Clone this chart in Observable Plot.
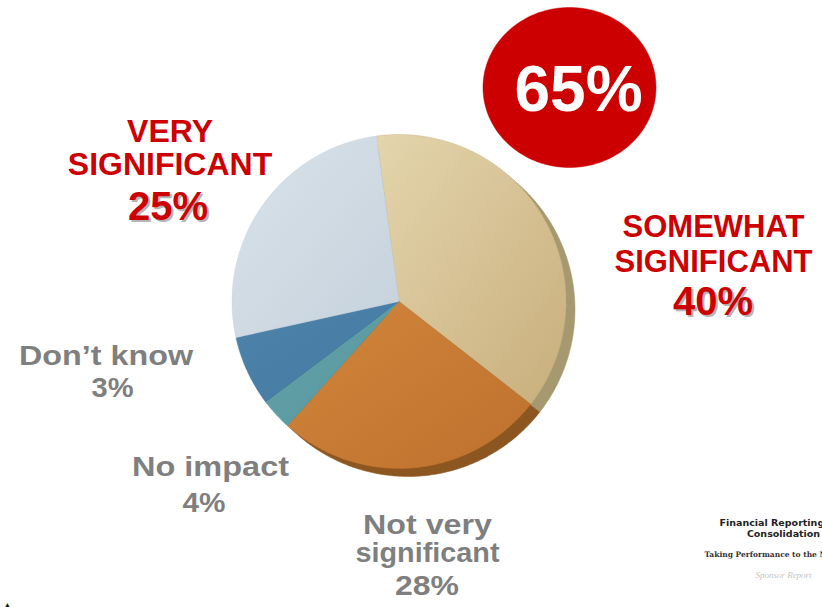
<!DOCTYPE html>
<html><head><meta charset="utf-8">
<script src="https://cdn.jsdelivr.net/npm/d3@7"></script>
<script src="https://cdn.jsdelivr.net/npm/@observablehq/plot@0.6"></script>
<style>body{margin:0;background:#fff} svg{display:block}</style>
</head><body><div id="chart"></div>
<script>
// ---- data ----
const categories = ["Somewhat significant", "Not very significant", "No impact", "Don't know", "Very significant"];
const sliceShare = [37.7, 26.1, 3.1, 6.8, 26.3];   // slice sizes as drawn (%)
const labelPct   = [40, 28, 4, 3, 25];              // printed percentages
const headline   = "65%";
const labelLines = [["SOMEWHAT", "SIGNIFICANT"], ["Not very", "significant"], ["No impact"], ["Don\u2019t know"], ["VERY", "SIGNIFICANT"]];
const logoLines  = ["Financial Reporting", "Consolidation", "Taking Performance to the Next Level", "Sponsor Report"];

// ---- styles ----
const topColors = [["#e4d5ad", "#c8ae7c"], ["#d2853b", "#bd712d"], ["#63a1a9", "#5a98a0"], ["#4d83ab", "#4579a1"], ["#d8e2ea", "#c6d2dc"]];
const rimColors = ["#a6996f", "#8c5621", "#4a7a80", "#335e7e", "#a0aab4"];
const RED = "#cc0000", GRAY = "#7f7f7f";
const FONT = "'Liberation Sans', Arial, Helvetica, sans-serif";

// ---- layout ----
const W = 822, H = 607, cx = 398.5, cy = 301, R = 167;
const X = px => (px - cx) / R, Y = py => (cy - py) / R;
const startDeg = -7.8;
const labelPos = [
  {x: 713, lines: [236, 271.7], widths: null, pct: 314, pctX: 712.5, pctW: null, color: RED, size: 31, pctSize: 40},
  {x: 427, lines: [533.3, 561], widths: [129, 144], pct: 594, pctX: 426.5, pctW: 64, color: GRAY, size: 28, pctSize: 28},
  {x: 210, lines: [475], widths: [157], pct: 511.7, pctX: 203.5, pctW: 43, color: GRAY, size: 28, pctSize: 28},
  {x: 105.5, lines: [364.3], widths: [174], pct: 396.7, pctX: 112, pctW: 42, color: GRAY, size: 28, pctSize: 28},
  {x: 169.5, lines: [141.7, 174], widths: null, pct: 219, pctX: 167.5, pctW: null, color: RED, size: 32, pctSize: 40}
];

// ---- geometry from data ----
const arcs = d3.pie().sort(null)
  .startAngle(startDeg * Math.PI / 180)
  .endAngle(2 * Math.PI + startDeg * Math.PI / 180)(sliceShare);
const slices = arcs.map((a, i) => {
  const n = Math.max(2, Math.ceil((a.endAngle - a.startAngle) / (Math.PI / 240)));
  const pts = [{x: 0, y: 0}];
  for (let k = 0; k <= n; k++) {
    const t = a.startAngle + (a.endAngle - a.startAngle) * k / n;
    pts.push({x: Math.sin(t), y: Math.cos(t)});
  }
  pts.push({x: 0, y: 0});
  return {i, pts};
});
const ell = {cx: X(569), cy: Y(87), rx: 86.5 / R, ry: 80 / R};
const ellPts = d3.range(0, 361, 2).map(d => ({x: ell.cx + ell.rx * Math.cos(d * Math.PI / 180), y: ell.cy + ell.ry * Math.sin(d * Math.PI / 180)}));

// ---- text rows ----
const redRows = [], grayRows = [], redPct = [], grayPct = [];
labelPos.forEach((p, i) => {
  const red = p.color === RED;
  labelLines[i].forEach((t, j) => (red ? redRows : grayRows).push({text: t, x: X(p.x), y: Y(p.lines[j]), size: p.size, w: p.widths ? p.widths[j] : null}));
  (red ? redPct : grayPct).push({text: labelPct[i] + "%", x: X(p.pctX), y: Y(p.pct), size: p.pctSize, w: p.pctW});
});

const common = {x: "x", y: "y", text: "text", fontSize: "size", fontWeight: "bold", fontFamily: FONT, lineAnchor: "bottom", textAnchor: "middle"};
const marks = [];
slices.forEach(s => marks.push(Plot.line(s.pts, {x: "x", y: "y", dx: 9, dy: 8, fill: rimColors[s.i], stroke: rimColors[s.i], strokeWidth: 0.5, curve: "linear"})));
slices.forEach(s => marks.push(Plot.line(s.pts, {x: "x", y: "y", fill: `url(#g${s.i})`, stroke: topColors[s.i][1], strokeWidth: 0.4, curve: "linear"})));
marks.push(Plot.line(ellPts, {x: "x", y: "y", fill: RED, stroke: RED, strokeWidth: 0.5, curve: "linear"}));
marks.push(Plot.text([headline], {x: X(578), y: Y(110), text: d => d, fill: "white", fontSize: 64, fontWeight: "bold", fontFamily: FONT, lineAnchor: "bottom", textAnchor: "middle"}));
marks.push(Plot.text(redRows, {...common, fill: RED}));
marks.push(Plot.text(redPct, {...common, dx: 2, dy: 2, fill: "#b5b5b5"}));
marks.push(Plot.text(redPct, {...common, fill: RED}));
marks.push(Plot.text(grayRows, {...common, fill: GRAY}));
marks.push(Plot.text(grayPct, {...common, fill: GRAY}));
// sponsor logo text
marks.push(Plot.text([logoLines[0]], {x: X(719), y: Y(525), text: d => d, fill: "#222", fontSize: 9.5, fontWeight: "bold", fontFamily: "'DejaVu Sans', Verdana, sans-serif", lineAnchor: "bottom", textAnchor: "start"}));
marks.push(Plot.text([logoLines[1]], {x: X(783), y: Y(536), text: d => d, fill: "#222", fontSize: 9.5, fontWeight: "bold", fontFamily: "'DejaVu Sans', Verdana, sans-serif", lineAnchor: "bottom", textAnchor: "middle"}));
marks.push(Plot.text([logoLines[2]], {x: X(704), y: Y(556.7), text: d => d, fill: "#333", fontSize: 7.5, fontWeight: "bold", fontFamily: "'DejaVu Serif', 'Liberation Serif', serif", lineAnchor: "bottom", textAnchor: "start"}));
marks.push(Plot.text([logoLines[3]], {x: X(783), y: Y(577.7), text: d => d, fill: "#c4c4c4", fontSize: 9, fontStyle: "italic", fontFamily: "'Liberation Serif', serif", lineAnchor: "bottom", textAnchor: "middle"}));
marks.push(Plot.text(["\u25B2"], {x: X(7), y: Y(611), text: d => d, fill: "#111", fontSize: 14, fontFamily: "'DejaVu Sans', sans-serif", lineAnchor: "bottom", textAnchor: "middle"}));

const chart = Plot.plot({
  width: W, height: H,
  margin: 0,
  x: {domain: [-1, 1], range: [cx - R, cx + R], axis: null},
  y: {domain: [-1, 1], range: [cy + R, cy - R], axis: null},
  style: {background: "white", overflow: "hidden"},
  marks
});

const defs = d3.select(chart).insert("defs", ":first-child");
topColors.forEach((c, i) => {
  const g = defs.append("linearGradient").attr("id", `g${i}`).attr("x1", "0").attr("y1", "0").attr("x2", "1").attr("y2", "1");
  g.append("stop").attr("offset", "0%").attr("stop-color", c[0]);
  g.append("stop").attr("offset", "100%").attr("stop-color", c[1]);
});
// the gray labels are set wide in the original: stretch them to their measured widths
const widthByText = new Map([...grayRows, ...grayPct].map(r => [r.text, r.w]));
chart.querySelectorAll("text").forEach(t => {
  const w = widthByText.get(t.textContent);
  if (w) { t.setAttribute("textLength", w); t.setAttribute("lengthAdjust", "spacingAndGlyphs"); }
});

document.getElementById("chart").append(chart);
</script>
</body></html>
